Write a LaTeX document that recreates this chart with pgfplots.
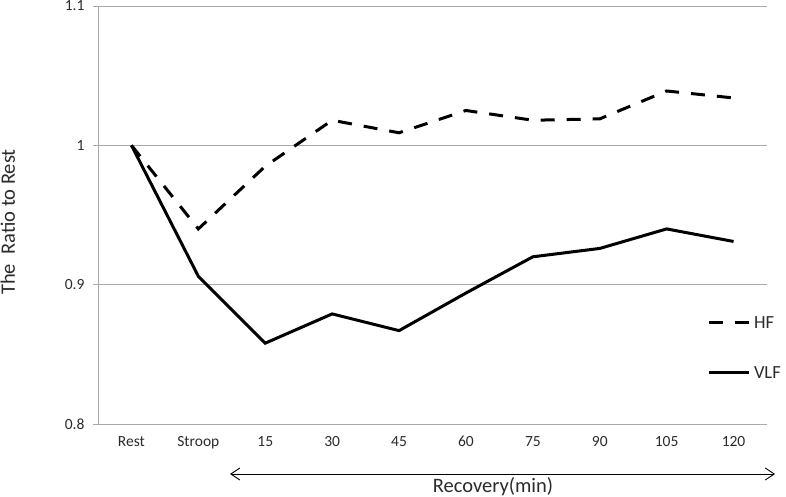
\documentclass[border=0pt]{standalone}
\usepackage{fontspec}
\setmainfont{Carlito}
\usepackage{pgfplots}
\pgfplotsset{compat=1.18}
\usetikzlibrary{arrows.meta}
\definecolor{gridgray}{HTML}{A9A9A9}
\definecolor{txt}{HTML}{2B2B2B}

\begin{document}
\begin{tikzpicture}
\path[use as bounding box] (-98pt,-73pt) rectangle (688pt,424pt);
\begin{axis}[
  scale only axis, width=669pt, height=418pt,
  xmin=-0.5, xmax=9.5, ymin=0.8, ymax=1.1,
  axis x line*=bottom, axis y line*=left,
  axis line style={gridgray, line width=0.8pt, -},
  xtick={0,...,9},
  xticklabels={Rest,Stroop,15,30,45,60,75,90,105,120},
  x tick style={draw=none},
  xticklabel style={yshift=-4pt},
  extra x ticks={-0.5,1.5,3.5,5.5,7.5,9.5},
  extra x tick labels={},
  extra x tick style={grid=none, major tick length=5pt, tick align=outside,
    tick style={gridgray, line width=0.8pt}},
  ytick={0.8,0.9,1,1.1},
  yticklabels={0.8,0.9,1,1.1},
  yticklabel style={xshift=-5pt},
  y tick style={gridgray, line width=0.8pt},
  major tick length=5pt, tick align=outside,
  ymajorgrids, grid style={gridgray, line width=0.8pt},
  tick label style={font=\fontsize{15.5}{18}\selectfont, text=txt},
  /pgf/number format/assume math mode=true,
  legend style={at={(0.91,0.184)}, anchor=west, draw=none, fill=none,
    inner sep=0pt, font=\fontsize{18.5}{22}\selectfont, text=txt,
    row sep=37pt,
    nodes={inner sep=0pt, text height=13pt, text depth=0pt}},
  legend cell align=left,
  legend image code/.code={\draw[#1] (0pt,0pt) -- (40pt,0pt); \path (44pt,0pt);},
]
\addplot[black, line width=3pt, dash pattern=on 14pt off 12pt] coordinates {
  (0,1.000) (1,0.940) (2,0.985) (3,1.018) (4,1.009)
  (5,1.025) (6,1.018) (7,1.019) (8,1.039) (9,1.034)
};
\addlegendentry{HF}
\addplot[black, line width=3pt] coordinates {
  (0,1.000) (1,0.906) (2,0.858) (3,0.879) (4,0.867)
  (5,0.894) (6,0.920) (7,0.926) (8,0.940) (9,0.931)
};
\addlegendentry{VLF}
\end{axis}
\draw[line width=0.9pt, {Straight Barb[length=9pt,width=12pt]}-{Straight Barb[length=9pt,width=12pt]}]
  (132pt,-50pt) -- (677pt,-50pt);
\node[anchor=base, text=txt, font=\fontsize{20.5}{24}\selectfont] at (395pt,-68pt) {Recovery(min)};
\node[anchor=base, rotate=90, text=txt, font=\fontsize{20.5}{24}\selectfont] at (-83pt,202pt) {The\ \ Ratio to Rest};
\end{tikzpicture}
\end{document}
